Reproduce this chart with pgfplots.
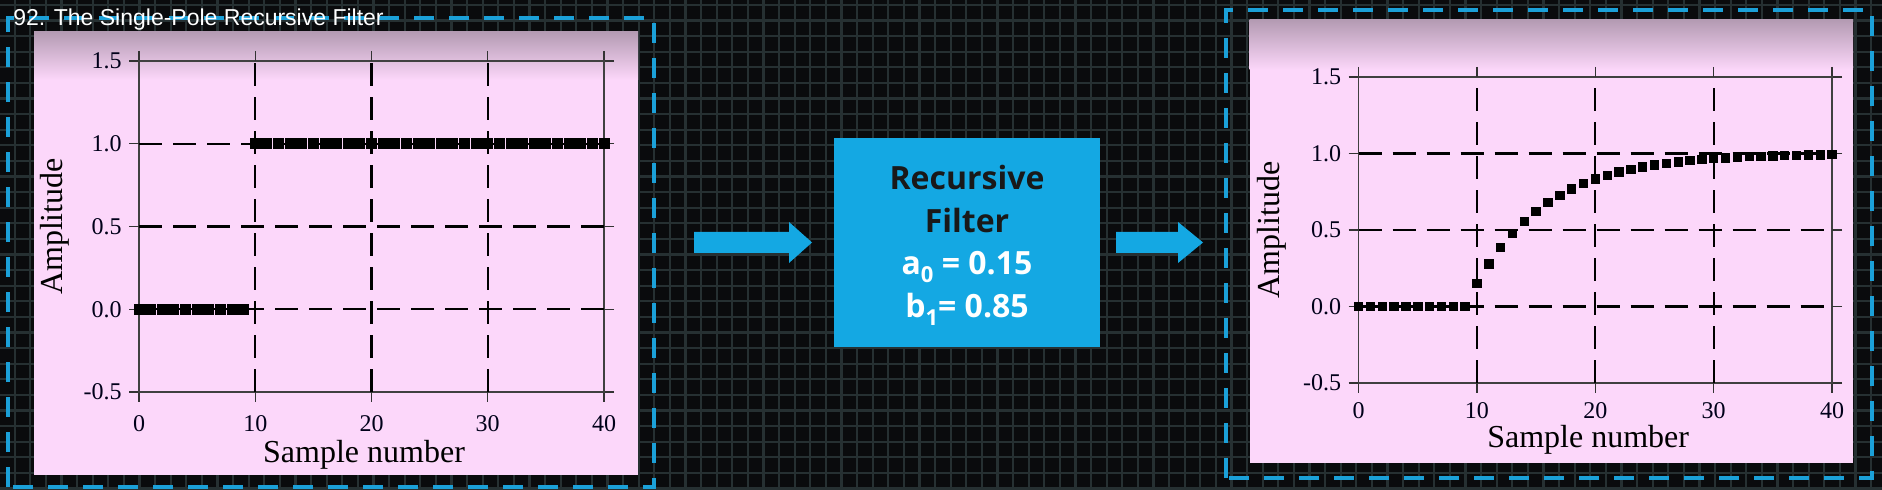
\documentclass[border=0pt]{standalone}
\usepackage{fontspec}
\setmainfont{Liberation Serif}
\newfontfamily\titlefont{Liberation Sans}
\newfontfamily\boxfont{Open Sans}
\usepackage{pgfplots}
\pgfplotsset{compat=1.18}
\usetikzlibrary{shadings}

\definecolor{bgdark}{HTML}{0A0B0D}
\definecolor{bggrid}{HTML}{263032}
\definecolor{frameblue}{HTML}{1BA0D8}
\definecolor{boxblue}{HTML}{14A8E3}
\definecolor{panelpink}{HTML}{FCD7FA}
\definecolor{paneltop}{HTML}{B49BB3}

\pgfplotsset{
  panel/.style={
    scale only axis, anchor=south west,
    xmin=0, xmax=40, ymin=-0.5, ymax=1.5,
    xtick={0,40}, xticklabels={0,40},
    extra x ticks={10,20,30}, extra x tick labels={10,20,30},
    ytick={-0.5,1.5}, yticklabels={-0.5,1.5},
    extra y ticks={0,0.5,1}, extra y tick labels={0.0,0.5,1.0},
    extra x tick style={grid=major},
    extra y tick style={grid=major},
    major grid style={black, line width=1.1pt, dash pattern=on 11.5pt off 5.5pt},
    tick align=outside, major tick length=5pt,
    tick style={black!80, line width=0.7pt},
    axis line style={black!75, line width=0.7pt},
    ticklabel style={font=\fontsize{12}{12}\selectfont, text=black!90!blue},
    xticklabel style={anchor=base, inner sep=0pt},
    yticklabel style={anchor=east, inner sep=0pt, xshift=-3.5pt},
    xlabel={Sample number}, ylabel={Amplitude},
  }
}

\begin{document}
\begin{tikzpicture}[x=0.5pt, y=0.5pt]
\useasboundingbox (0,0) rectangle (1882,490);

% dark background with its grid
\fill[bgdark] (0,0) rectangle (1882,490);
\begin{scope}
  \clip (0,0) rectangle (1882,490);
  \foreach \i in {0,...,121} {
    \draw[bggrid, line width=1.1pt] (\i*15.6-1,0) -- (\i*15.6-1,490);
  }
  \foreach \j in {0,...,32} {
    \draw[bggrid, line width=1.1pt] (0,490-5-\j*15.6) -- (1882,490-5-\j*15.6);
  }
\end{scope}

% dashed frames
\draw[frameblue, line width=2pt, dash pattern=on 10pt off 7.5pt] (8,3) rectangle (654,472);
\draw[frameblue, line width=2pt, dash pattern=on 10pt off 7.5pt] (1226,12) rectangle (1872,480);

% pink panels with shaded top
\fill[panelpink] (34,15) rectangle (638,458);
\shade[top color=paneltop, bottom color=panelpink] (34,410) rectangle (638,458);
\fill[panelpink] (1249.5,27) rectangle (1853,470);
\shade[top color=paneltop, bottom color=panelpink] (1249.5,420) rectangle (1853,470);

% title
\node[anchor=base west, inner sep=0pt, text=white, font=\titlefont\fontsize{11.5}{12}\selectfont]
  at (13,464) {92. The Single-Pole Recursive Filter};

% arrows and filter box
\fill[boxblue] (694,237) -- (789,237) -- (789,227) -- (812,247.5) -- (789,268) -- (789,258) -- (694,258) -- cycle;
\fill[boxblue] (1116,237) -- (1178,237) -- (1178,227) -- (1203,247.5) -- (1178,268) -- (1178,258) -- (1116,258) -- cycle;
\fill[boxblue] (834,143) rectangle (1100,352);
\begin{scope}[every node/.style={anchor=base, inner sep=0pt, font=\boxfont\bfseries\fontsize{16}{18}\selectfont}]
  \node[text=black!90] at (967,300) {Recursive};
  \node[text=black!90] at (967,257) {Filter};
  \node[text=white] at (967,215) {a\raisebox{-4pt}{\fontsize{11}{11}\selectfont 0} = 0.15};
  \node[text=white] at (967,172) {b\raisebox{-4pt}{\fontsize{11}{11}\selectfont 1}= 0.85};
\end{scope}

% input: unit step
\begin{axis}[panel,
  at={(69.5pt,49pt)}, width=232.5pt, height=165.5pt,
  xticklabel style={yshift=-15pt},
  every axis y label/.style={at={(axis description cs:-0.181,0.5)}, rotate=90, anchor=center, font=\fontsize{16}{18}\selectfont},
  every axis x label/.style={at={(axis description cs:0.484,-0.2145)}, anchor=base, font=\fontsize{16}{18}\selectfont},
]
\addplot[only marks, mark=square*, mark size=2.5pt, black] coordinates {
  (0,0)(1,0)(2,0)(3,0)(4,0)(5,0)(6,0)(7,0)(8,0)(9,0)
  (10,1)(11,1)(12,1)(13,1)(14,1)(15,1)(16,1)(17,1)(18,1)(19,1)
  (20,1)(21,1)(22,1)(23,1)(24,1)(25,1)(26,1)(27,1)(28,1)(29,1)
  (30,1)(31,1)(32,1)(33,1)(34,1)(35,1)(36,1)(37,1)(38,1)(39,1)(40,1)
};
\end{axis}

% output: filtered step
\begin{axis}[panel,
  at={(679.25pt,53.5pt)}, width=236.75pt, height=153pt,
  xticklabel style={yshift=-13pt},
  every axis y label/.style={at={(axis description cs:-0.184,0.5)}, rotate=90, anchor=center, font=\fontsize{16}{18}\selectfont},
  every axis x label/.style={at={(axis description cs:0.485,-0.212)}, anchor=base, font=\fontsize{16}{18}\selectfont},
]
\addplot[only marks, mark=square*, mark size=2.1pt, black] coordinates {
  (0,0)(1,0)(2,0)(3,0)(4,0)(5,0)(6,0)(7,0)(8,0)(9,0)
  (10,0.150)(11,0.278)(12,0.386)(13,0.478)(14,0.556)(15,0.623)(16,0.679)(17,0.728)(18,0.768)(19,0.803)
  (20,0.833)(21,0.858)(22,0.879)(23,0.897)(24,0.913)(25,0.926)(26,0.937)(27,0.946)(28,0.954)(29,0.961)
  (30,0.967)(31,0.972)(32,0.976)(33,0.979)(34,0.982)(35,0.985)(36,0.987)(37,0.989)(38,0.991)(39,0.992)(40,0.994)
};
\end{axis}
\end{tikzpicture}
\end{document}
